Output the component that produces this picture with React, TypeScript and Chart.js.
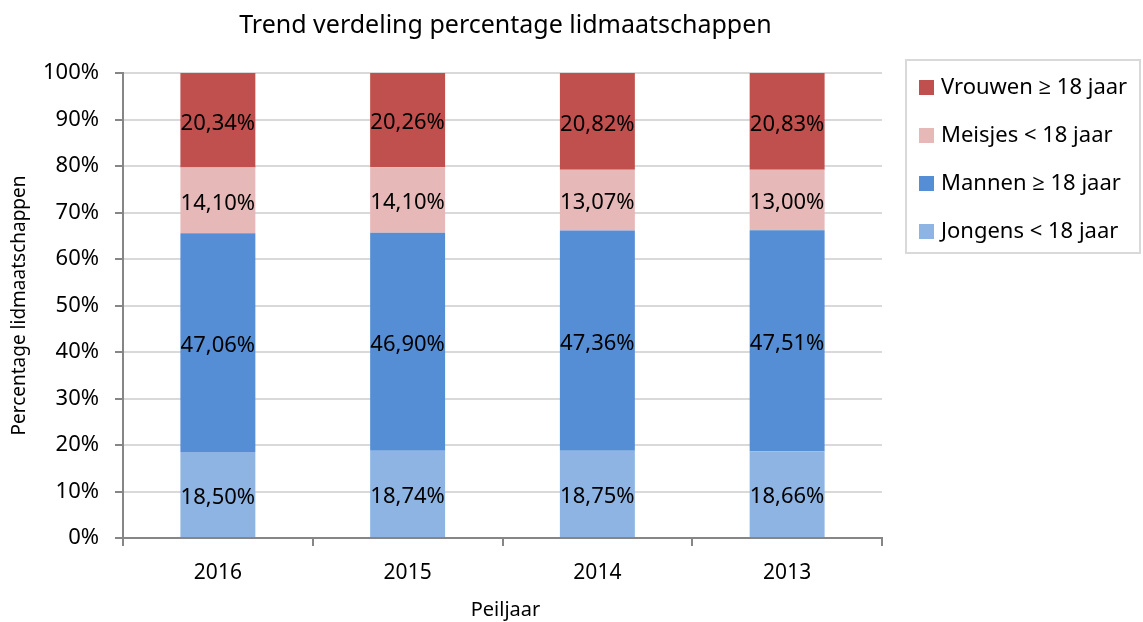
import React, { useEffect, useRef } from "react";
import { Chart, registerables } from "chart.js";

Chart.register(...registerables);

const categories = ["2016", "2015", "2014", "2013"];
const jongens = [18.5, 18.74, 18.75, 18.66];
const mannen = [47.06, 46.9, 47.36, 47.51];
const meisjes = [14.1, 14.1, 13.07, 13.0];
const vrouwen = [20.34, 20.26, 20.82, 20.83];
const seriesNames = ["Jongens < 18 jaar", "Mannen ≥ 18 jaar", "Meisjes < 18 jaar", "Vrouwen ≥ 18 jaar"];
const seriesColors = ["#8EB4E3", "#558ED5", "#E6B9B8", "#C0504D"];
const yTicks = [0, 10, 20, 30, 40, 50, 60, 70, 80, 90, 100];

const FONT = "'Noto Sans', 'Open Sans', sans-serif";

const W = 1143;
const H = 622;
const AREA = { left: 123, right: 882, top: 73, bottom: 538 };

const fmt = (v: number) => v.toFixed(2).replace(".", ",") + "%";

const decorPlugin = {
  id: "decor",
  afterDatasetsDraw(chart: any) {
    const ctx = chart.ctx;
    ctx.save();
    ctx.fillStyle = "#000";
    ctx.font = `22px ${FONT}`;
    ctx.textAlign = "center";
    ctx.textBaseline = "middle";
    chart.data.datasets.forEach((ds: any, i: number) => {
      const meta = chart.getDatasetMeta(i);
      meta.data.forEach((el: any, j: number) => {
        const y = (el.y + el.base) / 2;
        ctx.fillText(fmt(ds.data[j]), el.x, y + 3);
      });
    });
    ctx.restore();
  },
  afterDraw(chart: any) {
    const ctx = chart.ctx;
    const ca = chart.chartArea;
    ctx.save();
    // title
    ctx.fillStyle = "#000";
    ctx.font = `25px ${FONT}`;
    ctx.textAlign = "center";
    ctx.textBaseline = "middle";
    ctx.fillText("Trend verdeling percentage lidmaatschappen", (ca.left + ca.right) / 2 + 3, 26);
    // y axis title
    ctx.font = `19px ${FONT}`;
    ctx.save();
    ctx.translate(20, (ca.top + ca.bottom) / 2);
    ctx.rotate(-Math.PI / 2);
    ctx.fillText("Percentage lidmaatschappen", 0, 0);
    ctx.restore();
    // x axis title
    ctx.font = `20px ${FONT}`;
    ctx.fillText("Peiljaar", (ca.left + ca.right) / 2 + 3, 610);
    // legend
    ctx.strokeStyle = "#d9d9d9";
    ctx.lineWidth = 2;
    ctx.strokeRect(906, 60, 234, 193);
    ctx.font = `22px ${FONT}`;
    ctx.textAlign = "left";
    const ds = chart.data.datasets;
    for (let k = 0; k < ds.length; k++) {
      const idx = ds.length - 1 - k;
      const cy = 88 + k * 48;
      ctx.fillStyle = ds[idx].backgroundColor;
      ctx.fillRect(919, cy - 8, 15, 15);
      ctx.fillStyle = "#000";
      ctx.fillText(ds[idx].label, 941, cy);
    }
    ctx.restore();
  },
};

export default function App() {
  const ref = useRef<HTMLCanvasElement>(null);
  useEffect(() => {
    document.body.style.margin = "0";
    const canvas = ref.current!;
    const data = [jongens, mannen, meisjes, vrouwen];
    const chart = new Chart(canvas, {
      type: "bar",
      data: {
        labels: categories,
        datasets: data.map((d, i) => ({
          label: seriesNames[i],
          data: d,
          backgroundColor: seriesColors[i],
          borderWidth: 0,
          barPercentage: 0.395,
          categoryPercentage: 1,
        })),
      },
      options: {
        responsive: false,
        animation: false,
        layout: {
          padding: { left: 0, top: AREA.top, right: W - AREA.right, bottom: 0 },
        },
        plugins: {
          legend: { display: false },
          title: { display: false },
          tooltip: { enabled: false },
        },
        scales: {
          x: {
            stacked: true,
            offset: true,
            grid: {
              offset: true,
              drawOnChartArea: false,
              drawTicks: true,
              tickLength: 8,
              color: "#868686",
              lineWidth: 2,
            },
            border: { color: "#868686", width: 2 },
            ticks: {
              color: "#000",
              font: { family: FONT, size: 21 },
              padding: 14,
            },
            afterFit: (s: any) => {
              s.height = H - AREA.bottom;
            },
          },
          y: {
            stacked: true,
            min: 0,
            max: 100,
            afterBuildTicks: (s: any) => {
              s.ticks = yTicks.map((v) => ({ value: v }));
            },
            grid: {
              color: "#d9d9d9",
              lineWidth: 2,
              drawTicks: true,
              tickLength: 8,
              tickColor: "#868686",
            },
            border: { color: "#868686", width: 2 },
            ticks: {
              color: "#000",
              font: { family: FONT, size: 22 },
              padding: 16,
              callback: (v: any) => v + "%",
            },
            afterFit: (s: any) => {
              s.width = AREA.left;
            },
          },
        },
      },
      plugins: [decorPlugin],
    });
    return () => chart.destroy();
  }, []);
  return (
    <div style={{ width: W, height: H }}>
      <canvas ref={ref} width={W} height={H} style={{ display: "block" }} />
    </div>
  );
}
